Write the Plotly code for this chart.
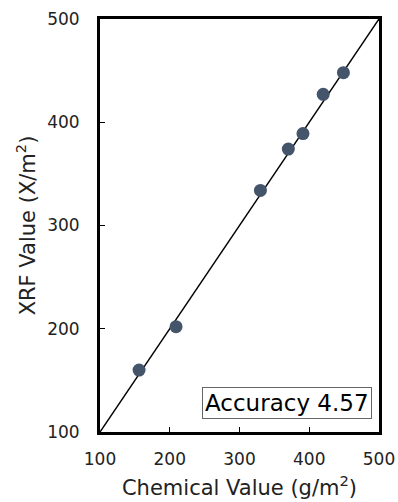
import plotly.graph_objects as go

chemical = [156, 209, 330, 370, 391, 420, 449]
xrf = [160, 202, 334, 374, 389, 427, 448]
ref_line = [100, 500]
ticks = [100, 200, 300, 400, 500]
accuracy_text = "Accuracy 4.57"

font = "DejaVu Sans, Verdana, sans-serif"

fig = go.Figure()
fig.add_trace(go.Scatter(x=ref_line, y=ref_line, mode="lines",
                         line=dict(color="black", width=1.5), hoverinfo="skip"))
fig.add_trace(go.Scatter(x=chemical, y=xrf, mode="markers",
                         marker=dict(color="#44546a", size=13)))

axis_common = dict(range=[100, 500], tickvals=ticks, showgrid=False, zeroline=False,
                   showline=True, linecolor="black", linewidth=3, mirror=True,
                   ticks="inside", ticklen=5, tickwidth=1, tickcolor="black",
                   automargin=False,
                   tickfont=dict(family=font, size=17, color="#222"))

fig.update_layout(
    template="none",
    width=398, height=502,
    margin=dict(l=100, r=19, t=19, b=70),
    paper_bgcolor="white", plot_bgcolor="white",
    showlegend=False,
    font=dict(family=font),
    xaxis=dict(**axis_common, ticklabelstandoff=10,
               title=dict(text="Chemical Value (g/m<sup>2</sup>)", standoff=12,
                          font=dict(family=font, size=21, color="#222"))),
    yaxis=dict(**axis_common, ticklabelstandoff=14,
               title=dict(text="XRF Value (X/m<sup>2</sup>)", standoff=6,
                          font=dict(family=font, size=21, color="#222"))),
)
fig.add_annotation(text=accuracy_text, xref="paper", yref="paper",
                   x=0.974, y=0.031, xanchor="right", yanchor="bottom",
                   showarrow=False, font=dict(family=font, size=23, color="black"),
                   bordercolor="#666", borderwidth=1, borderpad=2, bgcolor="white")

fig.write_html("out.html")
